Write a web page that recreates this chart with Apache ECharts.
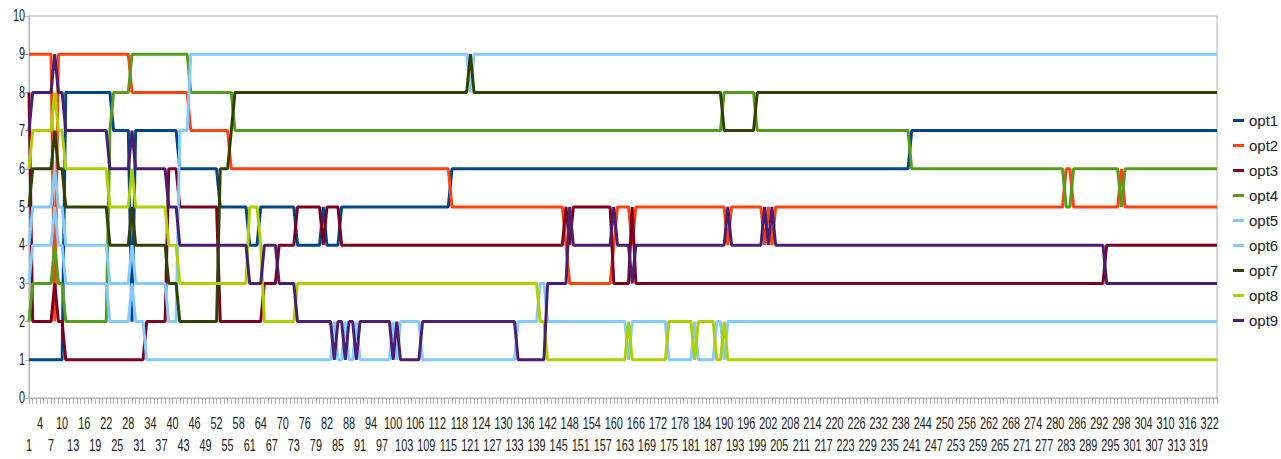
<!DOCTYPE html>
<html>
<head>
<meta charset="utf-8">
<script src="https://cdn.jsdelivr.net/npm/echarts@6/dist/echarts.min.js"></script>
<style>
  html, body { margin: 0; padding: 0; background: #fff; }
  #main { width: 1281px; height: 459px; }
</style>
</head>
<body>
<div id="main"></div>
<script>
// x categories run 1..324
const categoryCount = 324;
const categories = [];
for (let i = 1; i <= categoryCount; i++) categories.push(String(i));

// rank of each option, as [first category, value] change points (value holds until the next one)
const opt1 = [[1,1],[11,8],[24,7],[29,2],[30,7],[42,6],[53,5],[61,4],[64,5],[74,4],[81,5],[82,4],[86,5],[116,6],[241,7]];
const opt2 = [[1,9],[8,2],[9,9],[29,8],[45,7],[56,6],[116,5],[147,4],[148,3],[160,4],[161,5],[165,4],[166,5],[191,4],[192,5],[201,4],[202,5],[203,4],[204,5],[283,6],[285,5],[298,6],[299,5]];
const opt3 = [[1,8],[2,2],[8,3],[9,2],[11,1],[33,2],[39,6],[42,5],[53,2],[65,3],[69,4],[74,5],[81,4],[82,5],[86,4],[147,5],[148,4],[149,5],[160,3],[165,5],[166,3],[294,4]];
const opt4 = [[1,2],[2,3],[8,4],[9,3],[11,2],[23,7],[24,8],[29,9],[45,8],[57,7],[190,8],[199,7],[241,6],[283,5],[285,6],[298,5],[299,6]];
const opt5 = [[1,4],[2,5],[8,6],[9,5],[11,4],[23,3],[29,4],[30,3],[39,2],[42,7],[45,9],[121,8],[122,9]];
const opt6 = [[1,3],[2,4],[8,5],[9,4],[11,3],[23,2],[29,3],[30,2],[33,1],[84,2],[85,1],[87,2],[88,1],[90,2],[91,1],[100,2],[101,1],[102,2],[108,1],[134,2],[140,3],[142,2],[164,1],[165,2],[175,1],[182,2],[183,1],[188,2],[190,1],[191,2]];
const opt7 = [[1,5],[2,6],[8,7],[9,6],[11,5],[23,4],[29,5],[30,4],[39,3],[42,2],[53,6],[56,7],[57,8],[121,9],[122,8],[190,7],[199,8]];
const opt8 = [[1,6],[2,7],[8,8],[9,7],[11,6],[23,5],[29,6],[30,5],[39,4],[42,3],[61,5],[64,4],[65,2],[74,3],[140,2],[142,1],[164,2],[165,1],[175,2],[182,1],[183,2],[188,1],[190,2],[191,1]];
const opt9 = [[1,7],[2,8],[8,9],[9,8],[11,7],[23,6],[29,7],[30,6],[39,5],[42,4],[61,3],[65,4],[69,3],[74,2],[84,1],[85,2],[87,1],[88,2],[90,1],[91,2],[100,1],[101,2],[102,1],[108,2],[134,1],[142,3],[148,5],[149,4],[160,5],[161,4],[165,3],[166,4],[191,5],[192,4],[201,5],[202,4],[203,5],[204,4],[294,3]];

const seriesNames = ['opt1', 'opt2', 'opt3', 'opt4', 'opt5', 'opt6', 'opt7', 'opt8', 'opt9'];
const seriesRuns = [opt1, opt2, opt3, opt4, opt5, opt6, opt7, opt8, opt9];
const colors = ['#004586', '#ff420e', '#7e0021', '#579d1c', '#83caff', '#83caff', '#314004', '#aecf00', '#4b1f6f'];

// y axis ticks
const yMin = 0;
const yMax = 10;
const yStep = 1;

function expand(runs) {
  const out = [];
  let k = 0;
  for (let c = 1; c <= categoryCount; c++) {
    while (k + 1 < runs.length && runs[k + 1][0] <= c) k++;
    out.push(runs[k][1]);
  }
  return out;
}

const font = "'Liberation Sans', Arial, sans-serif";
const chart = echarts.init(document.getElementById('main'), null, { renderer: 'svg' });

const option = {
  animation: false,
  color: colors,
  grid: {
    left: 29,
    right: 64,
    top: 16,
    bottom: 61,
    show: true,
    borderColor: '#b3b3b3',
    borderWidth: 1
  },
  legend: {
    orient: 'vertical',
    left: 1233,
    top: 113,
    padding: 0,
    icon: 'rect',
    itemWidth: 11,
    itemHeight: 3,
    itemGap: 10,
    textStyle: { fontFamily: font, fontSize: 15, color: '#222', lineHeight: 14 },
    data: seriesNames
  },
  xAxis: {
    type: 'category',
    data: categories,
    boundaryGap: false,
    axisLine: { lineStyle: { color: '#b3b3b3' } },
    axisTick: { interval: 0, length: 6, lineStyle: { color: '#b3b3b3' } },
    axisLabel: {
      // every 3rd category gets a label, alternating between two rows
      interval: 0,
      margin: 15,
      hideOverlap: false,
      fontFamily: font,
      fontSize: 16,
      lineHeight: 22,
      color: '#222',
      formatter: (value, index) => {
        if (index % 3 !== 0) return '';
        return index % 6 === 0 ? '\n' + value : value;
      }
    },
    splitLine: { show: false }
  },
  yAxis: {
    type: 'value',
    min: yMin,
    max: yMax,
    interval: yStep,
    axisLine: { show: true, lineStyle: { color: '#b3b3b3' } },
    axisTick: { show: true, length: 4, lineStyle: { color: '#b3b3b3' } },
    axisLabel: { margin: 4, fontFamily: font, fontSize: 16, color: '#222', hideOverlap: false },
    splitLine: { show: false }
  },
  series: seriesNames.map((name, i) => ({
    name: name,
    type: 'line',
    data: expand(seriesRuns[i]),
    symbol: 'none',
    lineStyle: { width: 3, color: colors[i] },
    itemStyle: { color: colors[i] }
  }))
};

chart.setOption(option);

// the axis numbers in the original are a tall, narrow face: squeeze them sideways
function squeezeAxisText() {
  const svg = document.querySelector('#main svg');
  if (!svg) return;
  const base = svg.getBoundingClientRect();
  svg.querySelectorAll('text').forEach(t => {
    const s = t.textContent.trim();
    if (!/^\d+$/.test(s) || t.dataset.squeezed) return;
    const r = t.getBoundingClientRect();
    const isY = r.right - base.left < 32;
    const ax = isY ? r.right - base.left : r.left + r.width / 2 - base.left;
    const old = t.getAttribute('transform') || '';
    t.setAttribute('transform', `translate(${ax} 0) scale(0.68 1) translate(${-ax} 0) ${old}`);
    t.dataset.squeezed = '1';
  });
}
chart.getZr().flush();
squeezeAxisText();
chart.on('finished', squeezeAxisText);
</script>
</body>
</html>
